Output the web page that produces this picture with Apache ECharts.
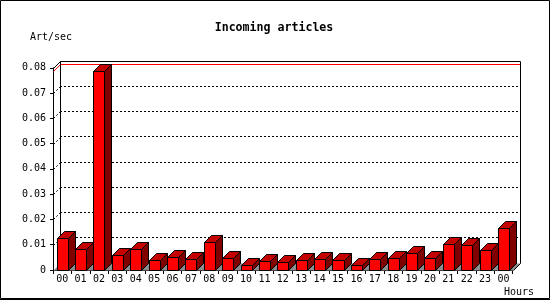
<!DOCTYPE html>
<html>
<head>
<meta charset="utf-8">
<script src="https://cdn.jsdelivr.net/npm/echarts@6/dist/echarts.min.js"></script>
<style>html,body{margin:0;padding:0;background:#fff}#c{width:550px;height:300px}</style>
</head>
<body>
<div id="c"></div>
<script>
// ---- data ----
const hours = ['00','01','02','03','04','05','06','07','08','09','10','11','12',
               '13','14','15','16','17','18','19','20','21','22','23','00'];
const rate = [0.0125, 0.0083, 0.0787, 0.0058, 0.0083, 0.0038, 0.0050, 0.0042, 0.0110,
              0.0046, 0.0019, 0.0034, 0.0030, 0.0038, 0.0042, 0.0038, 0.0019, 0.0042,
              0.0046, 0.0066, 0.0046, 0.0102, 0.0098, 0.0078, 0.0165];
const yTicks = [0, 0.01, 0.02, 0.03, 0.04, 0.05, 0.06, 0.07, 0.08];
const titleText = 'Incoming articles';
const yName = 'Art/sec';
const xName = 'Hours';

// ---- style ----
const D = 7;               // 3D depth in pixels
const MONO = '"DejaVu Sans Mono", "Liberation Mono", monospace';
const yMin = yTicks[0], yMax = yTicks[yTicks.length - 1], yStep = yTicks[1] - yTicks[0];
const maxVal = Math.max.apply(null, rate);
const R = v => Math.round(v) + 0.5;

function renderBar(params, api) {
  const i = api.value(0), v = api.value(1);
  const top = api.coord([i, v]);
  const base = api.coord([i, 0]);
  const w = api.size([1, 0])[0] * 0.6;
  const xl = R(top[0] - w / 2), xr = R(top[0] + w / 2);
  const yt = R(top[1]), yb = R(base[1]);
  const st = (f) => ({ fill: f, stroke: '#000', lineWidth: 1 });
  return {
    type: 'group',
    children: [
      { type: 'polygon', shape: { points: [[xl, yt], [xl + D, yt - D], [xr + D, yt - D], [xr, yt]] }, style: st('#c40000') },
      { type: 'polygon', shape: { points: [[xr, yt], [xr + D, yt - D], [xr + D, yb - D], [xr, yb]] }, style: st('#800000') },
      { type: 'rect', shape: { x: xl, y: yt, width: xr - xl, height: yb - yt }, style: st('#ff0000') }
    ]
  };
}

function renderFrame(params, api) {
  const cs = params.coordSys;
  const L = R(cs.x), Rt = R(cs.x + cs.width), T = R(cs.y), B = R(cs.y + cs.height);
  const children = [];
  // floor
  children.push({ type: 'polygon', shape: { points: [[L, B], [Rt, B], [Rt + D, B - D], [L + D, B - D]] },
    style: { fill: '#8c8c8c', stroke: null } });
  // left wall diagonals at ticks
  yTicks.forEach((t, k) => {
    if (k === 0) return;
    const y = R(api.coord([0, t])[1]);
    const isTop = k === yTicks.length - 1;
    children.push({ type: 'line', shape: { x1: L, y1: y, x2: L + D, y2: y - D },
      style: { stroke: '#000', lineWidth: 1, lineDash: isTop ? null : [2, 2] } });
  });
  // max line (red) along the back wall
  const ym = R(api.coord([0, maxVal])[1]);
  children.push({ type: 'polyline', shape: { points: [[L, ym], [L + D, ym - D], [Rt + D, ym - D]] },
    style: { stroke: '#ff0000', lineWidth: 1, fill: null } });
  // back wall box
  children.push({ type: 'polyline', shape: { points: [[L + D, B - D], [L + D, T - D], [Rt + D, T - D], [Rt + D, B - D], [Rt, B]] },
    style: { stroke: '#000', lineWidth: 1, fill: null } });
  return { type: 'group', children };
}

const chart = echarts.init(document.getElementById('c'), null, { renderer: 'canvas' });
chart.setOption({
  animation: false,
  backgroundColor: '#fff',
  grid: [
    { left: 53, right: 37.3, top: 67.8, bottom: 30, containLabel: false },
    { left: 53 + D, right: 37.3 - D, top: 67.8 - D, bottom: 30 + D, containLabel: false }
  ],
  xAxis: [
    { type: 'category', gridIndex: 0, data: hours, boundaryGap: true,
      axisLine: { show: true, lineStyle: { color: '#000', width: 1 } },
      axisTick: { show: true, length: 4, lineStyle: { color: '#000' } },
      axisLabel: { show: true, interval: 0, margin: 4, color: '#000', fontFamily: MONO, fontSize: 10 },
      splitLine: { show: false } },
    { type: 'category', gridIndex: 1, data: hours, show: false }
  ],
  yAxis: [
    { type: 'value', gridIndex: 0, min: yMin, max: yMax, interval: yStep,
      axisLine: { show: true, lineStyle: { color: '#000', width: 1 } },
      axisTick: { show: true, length: 3, lineStyle: { color: '#000' } },
      axisLabel: { show: true, margin: 7, color: '#000', fontFamily: MONO, fontSize: 10 },
      splitLine: { show: false } },
    { type: 'value', gridIndex: 1, min: yMin, max: yMax, interval: yStep,
      axisLine: { show: false }, axisTick: { show: false }, axisLabel: { show: false },
      splitLine: { show: true, showMinLine: false, showMaxLine: false,
        lineStyle: { color: '#000', width: 1, type: [2, 2] } } }
  ],
  series: [
    { type: 'custom', name: 'frame', xAxisIndex: 0, yAxisIndex: 0, z: 1,
      renderItem: renderFrame, data: [[0, 0]], silent: true },
    { type: 'custom', name: 'rate', xAxisIndex: 0, yAxisIndex: 0, z: 3,
      renderItem: renderBar, data: rate.map((v, i) => [i, v]) }
  ],
  graphic: [
    { type: 'rect', shape: { x: 0.5, y: 0.5, width: 549, height: 298 }, style: { fill: null, stroke: '#000', lineWidth: 1 }, z: 10 },
    { type: 'line', shape: { x1: 0, y1: 299.5, x2: 550, y2: 299.5 }, style: { stroke: '#000', lineWidth: 1 }, z: 10 },
    { type: 'text', x: 274, y: 27.5, style: { text: titleText, fontFamily: MONO, fontSize: 11.6, fontWeight: 'bold', fill: '#000', align: 'center', verticalAlign: 'middle' }, z: 10 },
    { type: 'text', x: 30, y: 37, style: { text: yName, fontFamily: MONO, fontSize: 10, fill: '#000', align: 'left', verticalAlign: 'middle' }, z: 10 },
    { type: 'text', x: 504, y: 292, style: { text: xName, fontFamily: MONO, fontSize: 10, fill: '#000', align: 'left', verticalAlign: 'middle' }, z: 10 }
  ]
});
</script>
</body>
</html>
